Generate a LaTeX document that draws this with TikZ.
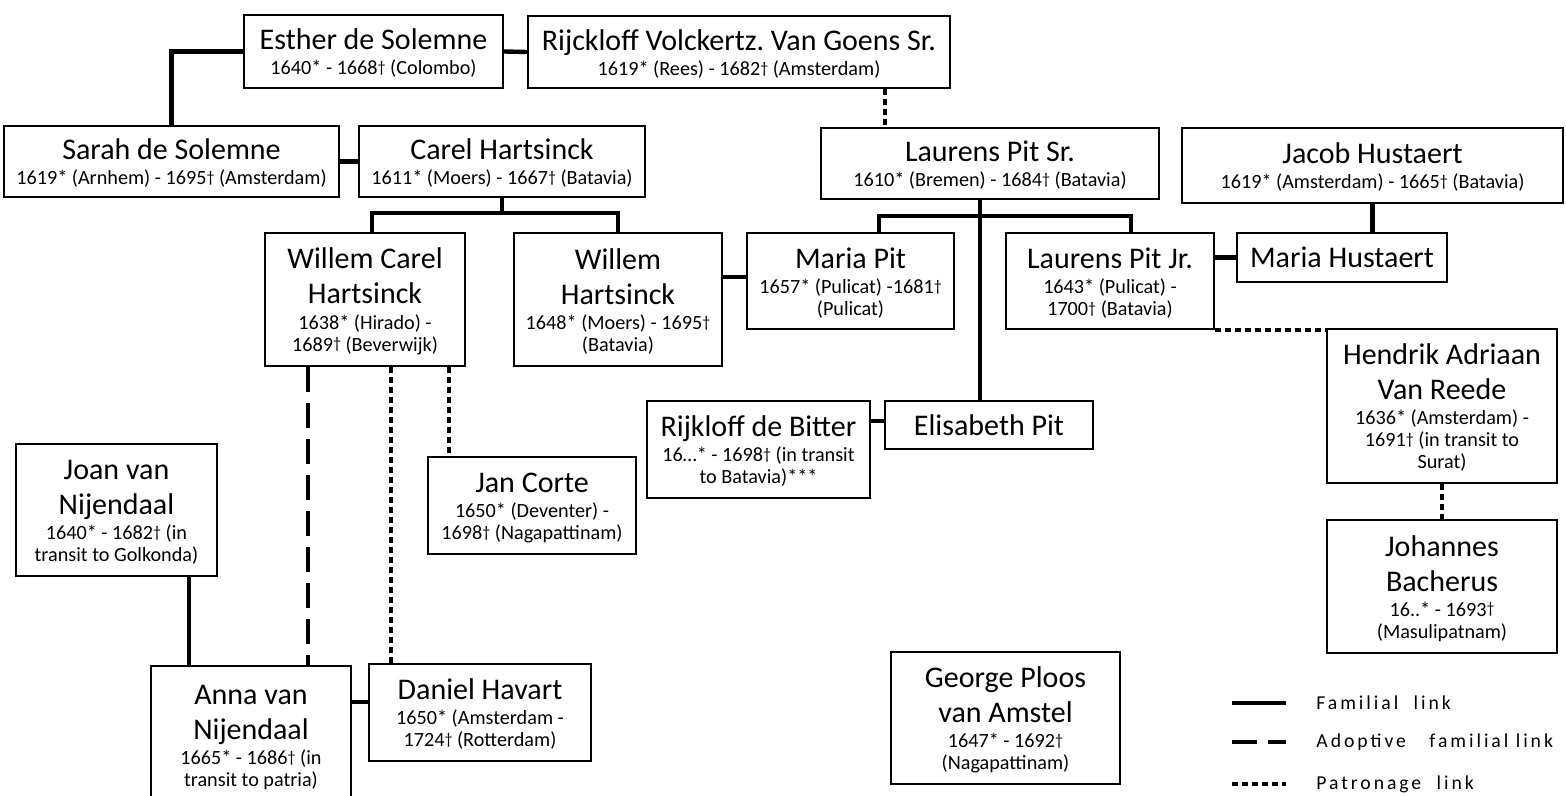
\documentclass[tikz,border=0pt]{standalone}
\usepackage{fontspec}
\setmainfont{Carlito}
\newfontfamily\legfont{Carlito}[LetterSpace=15]
\usepackage{tikz}
\frenchspacing

\newcommand{\nm}[1]{{\fontsize{15}{17.5}\selectfont\strut #1}}
\newcommand{\nmo}[1]{{\fontsize{15}{17.5}\selectfont #1}}
\newcommand{\dg}{\raisebox{1.2pt}{\fontsize{8}{9}\selectfont †}}
\newcommand{\datefont}{\fontsize{10.1}{11}\selectfont\lineskip=0pt\relax\lineskiplimit=0pt\relax}

\tikzset{
  person/.style={draw,line width=1.1pt,inner sep=0pt,align=center,font=\datefont},
  sz/.style 2 args={minimum width=#1*0.5pt,minimum height=#2*0.5pt},
  fam/.style={line width=2.2pt},
  adopt/.style={line width=2.1pt,dash pattern=on 12.5pt off 5.5pt},
  patron/.style={line width=2.2pt,dash pattern=on 3pt off 2pt},
  legtext/.style={anchor=west,inner sep=0pt,font=\legfont\fontsize{9.85}{11}\selectfont},
}

\begin{document}
\begin{tikzpicture}[x=0.5pt,y=-0.5pt]
\useasboundingbox (0,0) rectangle (1566,796);
% top rows
\node[person,sz={259}{73}] (esther) at (373.5,51.5) {\nm{Esther de Solemne}\\1640* - 1668\dg{} (Colombo)};
\node[person,sz={422}{72}] (rijck) at (739,52) {\nm{Rijckloff Volckertz. Van Goens Sr.}\\1619* (Rees) - 1682\dg{} (Amsterdam)};
\node[person,sz={335}{71}] (sarah) at (171.5,161.5) {\nm{Sarah de Solemne}\\1619* (Arnhem) - 1695\dg{} (Amsterdam)};
\node[person,sz={286}{71}] (carel) at (502,161.5) {\nm{Carel Hartsinck}\\1611* (Moers) - 1667\dg{} (Batavia)};
\node[person,sz={338}{71}] (lpsr) at (990,163.5) {\nm{Laurens Pit Sr.}\\1610* (Bremen) - 1684\dg{} (Batavia)};
\node[person,sz={381}{75}] (jacob) at (1372.5,165.5) {\nm{Jacob Hustaert}\\1619* (Amsterdam) - 1665\dg{} (Batavia)};
% children
\node[person,sz={200}{133}] (wcarel) at (365,299.5) {\nm{Willem Carel}\\\nm{Hartsinck}\\1638* (Hirado) -\\1689\dg{} (Beverwijk)};
\node[person,sz={208}{133}] (willem) at (618,299.5) {\nm{Willem}\\\nm{Hartsinck}\\1648* (Moers) - 1695\dg\\(Batavia)};
\node[person,sz={207}{96}] (mariapit) at (850.5,281) {\nm{Maria Pit}\\1657* (Pulicat) -1681\dg\\(Pulicat)};
\node[person,sz={208}{96}] (lpjr) at (1110,281) {\nm{Laurens Pit Jr.}\\1643* (Pulicat) -\\1700\dg{} (Batavia)};
\node[person,sz={210}{49}] (mariah) at (1342,257.5) {\nmo{Maria Hustaert}};
\node[person,sz={230}{154}] (hendrik) at (1442,406) {\nm{Hendrik Adriaan}\\\nm{Van Reede}\\1636* (Amsterdam) -\\1691\dg{} (in transit to\\Surat)};
\node[person,sz={223}{97}] (bitter) at (758.5,449.5) {\nm{Rijkloff de Bitter}\\16…* - 1698\dg{} (in transit\\to Batavia)***};
\node[person,sz={208}{48}] (elisabeth) at (989,425) {\nmo{Elisabeth Pit}};
\node[person,sz={208}{97}] (jancorte) at (532,505.5) {\nm{Jan Corte}\\1650* (Deventer) -\\1698\dg{} (Nagapattinam)};
\node[person,sz={201}{132}] (joan) at (116.5,510) {\nm{Joan van}\\\nm{Nijendaal}\\1640* - 1682\dg{} (in\\transit to Golkonda)};
\node[person,sz={200}{138}] (anna) at (251,735) {\nm{Anna van}\\\nm{Nijendaal}\\1665* - 1686\dg{} (in\\transit to patria)};
\node[person,sz={222}{97}] (daniel) at (480,712.5) {\nm{Daniel Havart}\\1650* (Amsterdam -\\1724\dg{} (Rotterdam)};
\node[person,sz={230}{133}] (johannes) at (1442,586.5) {\nm{Johannes}\\\nm{Bacherus}\\16..* - 1693\dg\\(Masulipatnam)};
\node[person,sz={229}{132}] (george) at (1005.5,718) {\nm{George Ploos}\\\nm{van Amstel}\\1647* - 1692\dg\\(Nagapattinam)};
% bars
\coordinate (cbar) at (502,213);
\coordinate (pbar) at (980,216);
% familial links
\draw[fam] (esther.west) -| (sarah.north);
\draw[fam] (esther.east) -- (rijck.west);
\draw[fam] (sarah.east) -- (carel.west);
\draw[fam] (carel.south) -- (cbar);
\draw[fam] ([xshift=3.5pt]wcarel.north) |- (cbar) -| (willem.north);
\draw[fam] (lpsr.south -| pbar) -- (elisabeth.north -| pbar);
\draw[fam] ([xshift=14.25pt]mariapit.north) |- (pbar) -| ([xshift=10.5pt]lpjr.north);
\draw[fam] ([yshift=2pt]mariapit.west) -- ([yshift=2pt]mariapit.west -| willem.east);
\draw[fam] (mariah.west) -- (mariah.west -| lpjr.east);
\draw[fam] (jacob.south) -- (jacob.south |- mariah.north);
\draw[fam] ([yshift=2pt]elisabeth.west) -- ([yshift=2pt]elisabeth.west -| bitter.east);
\draw[fam] ([xshift=36.25pt]joan.south) -- ([xshift=36.25pt]joan.south |- anna.north);
\draw[fam] ([yshift=5.25pt]daniel.west) -- ([yshift=5.25pt]daniel.west -| anna.east);
% adoptive link
\draw[adopt] ([xshift=-28.5pt]wcarel.south) -- ([xshift=-28.5pt]wcarel.south |- anna.north);
% patronage links
\draw[patron] ([xshift=73pt]rijck.south) -- ([xshift=73pt]rijck.south |- lpsr.north);
\draw[patron] ([xshift=13pt]wcarel.south) -- ([xshift=13pt]wcarel.south |- daniel.north);
\draw[patron] ([xshift=42pt]wcarel.south) -- ([xshift=42pt]wcarel.south |- jancorte.north);
\draw[patron] (lpjr.south east) -- (lpjr.south east -| hendrik.west);
\draw[patron] (hendrik.south) -- (johannes.north);
% legend
\node[legtext] (lfam) at (1316,703) {Familial\hspace{4pt} link};
\node[legtext] (ladopt) at (1316,742) {Adoptive\hspace{8pt} familial link};
\node[legtext] (lpatron) at (1316,784) {Patronage\hspace{4pt} link};
\draw[fam] ([xshift=-42pt]lfam.west) -- ([xshift=-15pt]lfam.west);
\draw[adopt] ([xshift=-42pt]ladopt.west) -- ([xshift=-15pt]ladopt.west);
\draw[patron] ([xshift=-42pt]lpatron.west) -- ([xshift=-15pt]lpatron.west);
\end{tikzpicture}
\end{document}
